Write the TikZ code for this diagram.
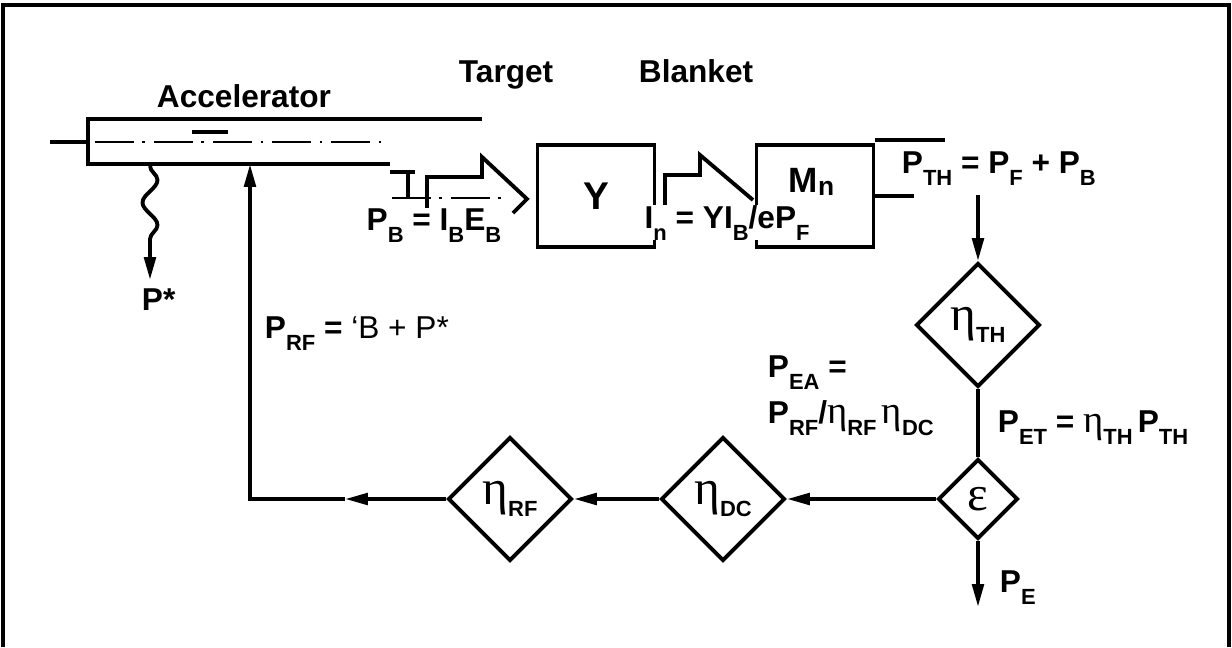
\documentclass[tikz,border=0pt]{standalone}
\usepackage{fontspec}
\setmainfont{Liberation Sans}
\newfontfamily\grk{Liberation Serif}
\usetikzlibrary{shapes.geometric, arrows.meta, positioning, decorations.pathmorphing}
\newcommand{\lo}[1]{\raisebox{-7pt}{\fontsize{12.5}{13}\selectfont #1}}
\newcommand{\geta}{{\grk\mdseries\fontsize{22}{22}\selectfont η}}
\newcommand{\deta}{{\grk\mdseries\fontsize{28}{28}\selectfont η}}

\begin{document}
\begin{tikzpicture}[x=0.02cm, y=-0.02cm, line width=2.2pt,
  lbl/.style={font=\bfseries\fontsize{18}{26}\selectfont, inner sep=0pt, anchor=base west},
  cover/.style={fill=white, inner xsep=1pt, inner ysep=0pt},
  blk/.style={draw, minimum width=2.34cm, minimum height=2.04cm, inner sep=0pt},
  eff/.style={draw, diamond, minimum size=2.48cm, inner sep=0pt, font=\bfseries\fontsize{14}{14}\selectfont},
  arr/.style={-{Triangle[length=13pt,width=6.5pt]}},
  axisline/.style={line width=1.6pt, dash pattern=on 22pt off 5pt on 1.6pt off 5pt}]
  \useasboundingbox (0,0) rectangle (1232,647);
  \draw[line width=2.6pt] (3,647) -- (3,5) -- (1229,5) -- (1229,647);

  % titles
  \node[lbl] (accTitle) at (155,107) {Accelerator};
  \node[lbl] (tgtTitle) at (457,82) {Target};
  \node[lbl] (blkTitle) at (637,82) {Blanket};

  % accelerator tube
  \draw (482,119) -- (88,119) -- (88,164) -- (390,164);
  \draw (50,142) -- (88,142);
  \draw[axisline] (95,142) -- (382,142);
  \draw (192,132) -- (228,132);
  \coordinate (tubeIn) at (250,164);
  \coordinate (waveStart) at (150,166);
  \coordinate (waveEnd) at (150,280);
  \draw[arr, decorate, decoration={snake, segment length=0.9cm, amplitude=0.15cm, post length=0.45cm}] (waveStart) -- (waveEnd);
  \node[lbl] (pstar) at (140,310) {P*};

  % beam onto target
  \draw (427,208) -- (427,177) -- (482,177) -- (482,157) -- (527,199) -- (513,213);
  \draw[axisline] (392,198) -- (510,198);
  \draw (390,172) -- (415,172);
  \draw (408,172) -- (408,198);
  \node[lbl, cover] (pbEq) at (363,230) {P\lo{B} = I\lo{B}E\lo{B}};

  % target and blanket
  \node[blk, font=\bfseries\fontsize{22}{22}\selectfont] (target) at (596,196) {Y};
  \draw (665,210) -- (665,175) -- (700,175) -- (700,155) -- (753,200);
  \node[blk] (blanket) at (815,196) {};
  \node[lbl, font=\bfseries\fontsize{20}{20}\selectfont] (mn) at (787,192) {M\raisebox{-2pt}{\fontsize{15}{15}\selectfont n}};
  \node[lbl, cover] (inEq) at (641,228) {I\lo{n} = YI\lo{B}/eP\lo{F}};

  % thermal power
  \draw (875,140) -- (945,140);
  \draw (blanket.east) -- ++(39,0);
  \node[lbl] (pthEq) at (900,173) {P\lo{TH} = P\lo{F} + P\lo{B}};
  \coordinate (thOut) at (978,195);
  \node[eff] (etaTH) at (978,325) {\deta\lo{TH}};
  \draw[arr] (thOut) -- (etaTH);
  \node[eff, minimum size=1.6cm] (split) at (978,499) {{\grk\mdseries\fontsize{28}{28}\selectfont ε}};
  \draw (etaTH) -- (split);
  \node[lbl] (petEq) at (996,432) {P\lo{ET} = \geta\lo{TH}\,P\lo{TH}};
  \coordinate (peOut) at (978,607);
  \draw[arr] (split) -- (peOut);
  \node[lbl] (peLbl) at (998,592) {P\lo{E}};

  % recirculated power
  \node[eff] (etaDC) at (723,499) {\deta\lo{DC}};
  \node[eff] (etaRF) at (510,499) {\deta\lo{RF}};
  \draw[arr] (split) -- (etaDC);
  \draw[arr] (etaDC) -- (etaRF);
  \node[lbl, align=left] (peaEq) at (766,423) {P\lo{EA} =\\P\lo{RF}/\geta\lo{RF}\,\geta\lo{DC}};
  \coordinate (fbMid) at (345,499);
  \coordinate (fbCorner) at (250,499);
  \draw[arr] (etaRF) -- (fbMid);
  \draw[arr] (fbMid) -- (fbCorner) -- (tubeIn);
  \node[lbl] (prfEq) at (263,338) {P\lo{RF} = {\mdseries ‘B + P*}};
\end{tikzpicture}
\end{document}
